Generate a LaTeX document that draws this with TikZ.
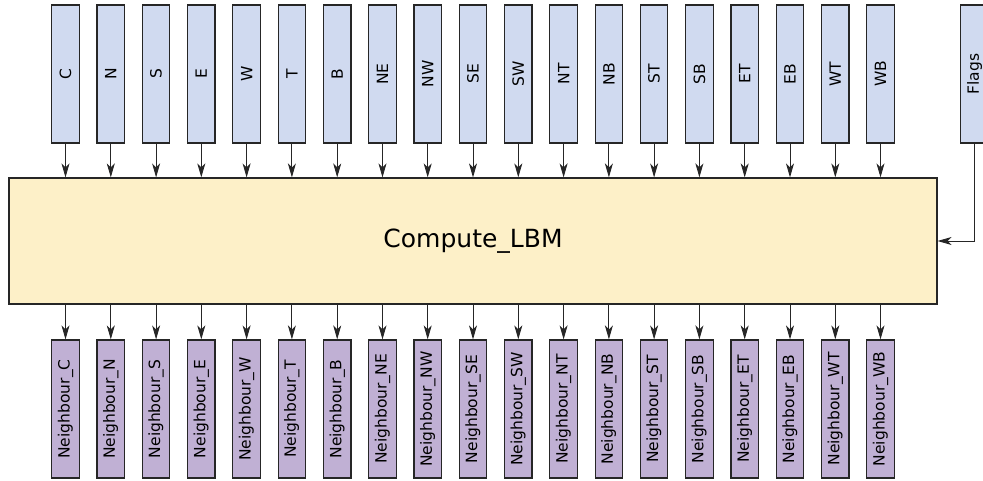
\documentclass[tikz,border=0pt]{standalone}
\usepackage{fontspec}
\setmainfont{DejaVu Sans}
\usetikzlibrary{arrows.meta}
\definecolor{inblue}{RGB}{208,218,240}
\definecolor{outpurple}{RGB}{192,176,212}
\definecolor{kernelyellow}{RGB}{253,240,200}
\tikzset{
	inbox/.style={draw=black!85, line width=1.2pt, fill=inblue, minimum width=27.5pt, minimum height=138pt, inner sep=0pt, font=\fontsize{15.5}{15.5}\selectfont},
	outbox/.style={draw=black!85, line width=1.2pt, fill=outpurple, minimum width=27.5pt, minimum height=138pt, inner sep=0pt, font=\fontsize{15.5}{15.5}\selectfont},
	flow/.style={line width=0.9pt, black!85, -{Stealth[length=14pt, width=8pt, inset=4pt]}}
}
\newcommand{\up}[1]{\rotatebox{90}{#1}}
\begin{document}
\begin{tikzpicture}[x=1pt, y=1pt]
			%%%%% FRAME %%%%%
			\useasboundingbox (0, 0) rectangle (983, -481);
			
			\node[draw=black!85, line width=1.2pt, fill=kernelyellow, minimum width=928pt, minimum height=126pt, inner sep=0pt, font=\fontsize{25}{25}\selectfont] (lbm) at (473, -241) {Compute\_LBM};
			
			%%%%% INPUTS %%%%%
			\node[inbox] (C) at (65.5, -74) {\up{C}};
			\node[inbox] (N) at (110.8, -74) {\up{N}};
			\node[inbox] (S) at (156.1, -74) {\up{S}};
			\node[inbox] (E) at (201.3, -74) {\up{E}};
			\node[inbox] (W) at (246.6, -74) {\up{W}};
			\node[inbox] (T) at (291.9, -74) {\up{T}};
			\node[inbox] (B) at (337.2, -74) {\up{B}};
			\node[inbox] (NE) at (382.5, -74) {\up{NE}};
			\node[inbox] (NW) at (427.7, -74) {\up{NW}};
			\node[inbox] (SE) at (473.0, -74) {\up{SE}};
			\node[inbox] (SW) at (518.3, -74) {\up{SW}};
			\node[inbox] (NT) at (563.6, -74) {\up{NT}};
			\node[inbox] (NB) at (608.9, -74) {\up{NB}};
			\node[inbox] (ST) at (654.1, -74) {\up{ST}};
			\node[inbox] (SB) at (699.4, -74) {\up{SB}};
			\node[inbox] (ET) at (744.7, -74) {\up{ET}};
			\node[inbox] (EB) at (790.0, -74) {\up{EB}};
			\node[inbox] (WT) at (835.3, -74) {\up{WT}};
			\node[inbox] (WB) at (880.5, -74) {\up{WB}};
			\node[inbox] (flags) at (974.5, -74) {\up{Flags}};
			
			%%%%% OUTPUTS %%%%%
			\node[outbox] (nC) at (65.5, -409) {\up{Neighbour\_C}};
			\node[outbox] (nN) at (110.8, -409) {\up{Neighbour\_N}};
			\node[outbox] (nS) at (156.1, -409) {\up{Neighbour\_S}};
			\node[outbox] (nE) at (201.3, -409) {\up{Neighbour\_E}};
			\node[outbox] (nW) at (246.6, -409) {\up{Neighbour\_W}};
			\node[outbox] (nT) at (291.9, -409) {\up{Neighbour\_T}};
			\node[outbox] (nB) at (337.2, -409) {\up{Neighbour\_B}};
			\node[outbox] (nNE) at (382.5, -409) {\up{Neighbour\_NE}};
			\node[outbox] (nNW) at (427.7, -409) {\up{Neighbour\_NW}};
			\node[outbox] (nSE) at (473.0, -409) {\up{Neighbour\_SE}};
			\node[outbox] (nSW) at (518.3, -409) {\up{Neighbour\_SW}};
			\node[outbox] (nNT) at (563.6, -409) {\up{Neighbour\_NT}};
			\node[outbox] (nNB) at (608.9, -409) {\up{Neighbour\_NB}};
			\node[outbox] (nST) at (654.1, -409) {\up{Neighbour\_ST}};
			\node[outbox] (nSB) at (699.4, -409) {\up{Neighbour\_SB}};
			\node[outbox] (nET) at (744.7, -409) {\up{Neighbour\_ET}};
			\node[outbox] (nEB) at (790.0, -409) {\up{Neighbour\_EB}};
			\node[outbox] (nWT) at (835.3, -409) {\up{Neighbour\_WT}};
			\node[outbox] (nWB) at (880.5, -409) {\up{Neighbour\_WB}};
			
			%%%%% ARROWS IN %%%%%
			\draw[flow] (C.south) -- (C.south |- lbm.north);
			\draw[flow] (N.south) -- (N.south |- lbm.north);
			\draw[flow] (S.south) -- (S.south |- lbm.north);
			\draw[flow] (E.south) -- (E.south |- lbm.north);
			\draw[flow] (W.south) -- (W.south |- lbm.north);
			\draw[flow] (T.south) -- (T.south |- lbm.north);
			\draw[flow] (B.south) -- (B.south |- lbm.north);
			\draw[flow] (NE.south) -- (NE.south |- lbm.north);
			\draw[flow] (NW.south) -- (NW.south |- lbm.north);
			\draw[flow] (SE.south) -- (SE.south |- lbm.north);
			\draw[flow] (SW.south) -- (SW.south |- lbm.north);
			\draw[flow] (NT.south) -- (NT.south |- lbm.north);
			\draw[flow] (NB.south) -- (NB.south |- lbm.north);
			\draw[flow] (ST.south) -- (ST.south |- lbm.north);
			\draw[flow] (SB.south) -- (SB.south |- lbm.north);
			\draw[flow] (ET.south) -- (ET.south |- lbm.north);
			\draw[flow] (EB.south) -- (EB.south |- lbm.north);
			\draw[flow] (WT.south) -- (WT.south |- lbm.north);
			\draw[flow] (WB.south) -- (WB.south |- lbm.north);
			\draw[flow] (flags.south) |- (lbm.east);
			
			%%%%% ARROWS OUT %%%%%
			\draw[flow] (nC.north |- lbm.south) -- (nC.north);
			\draw[flow] (nN.north |- lbm.south) -- (nN.north);
			\draw[flow] (nS.north |- lbm.south) -- (nS.north);
			\draw[flow] (nE.north |- lbm.south) -- (nE.north);
			\draw[flow] (nW.north |- lbm.south) -- (nW.north);
			\draw[flow] (nT.north |- lbm.south) -- (nT.north);
			\draw[flow] (nB.north |- lbm.south) -- (nB.north);
			\draw[flow] (nNE.north |- lbm.south) -- (nNE.north);
			\draw[flow] (nNW.north |- lbm.south) -- (nNW.north);
			\draw[flow] (nSE.north |- lbm.south) -- (nSE.north);
			\draw[flow] (nSW.north |- lbm.south) -- (nSW.north);
			\draw[flow] (nNT.north |- lbm.south) -- (nNT.north);
			\draw[flow] (nNB.north |- lbm.south) -- (nNB.north);
			\draw[flow] (nST.north |- lbm.south) -- (nST.north);
			\draw[flow] (nSB.north |- lbm.south) -- (nSB.north);
			\draw[flow] (nET.north |- lbm.south) -- (nET.north);
			\draw[flow] (nEB.north |- lbm.south) -- (nEB.north);
			\draw[flow] (nWT.north |- lbm.south) -- (nWT.north);
			\draw[flow] (nWB.north |- lbm.south) -- (nWB.north);
			
			%%%%% END %%%%%
		\end{tikzpicture}
\end{document}
